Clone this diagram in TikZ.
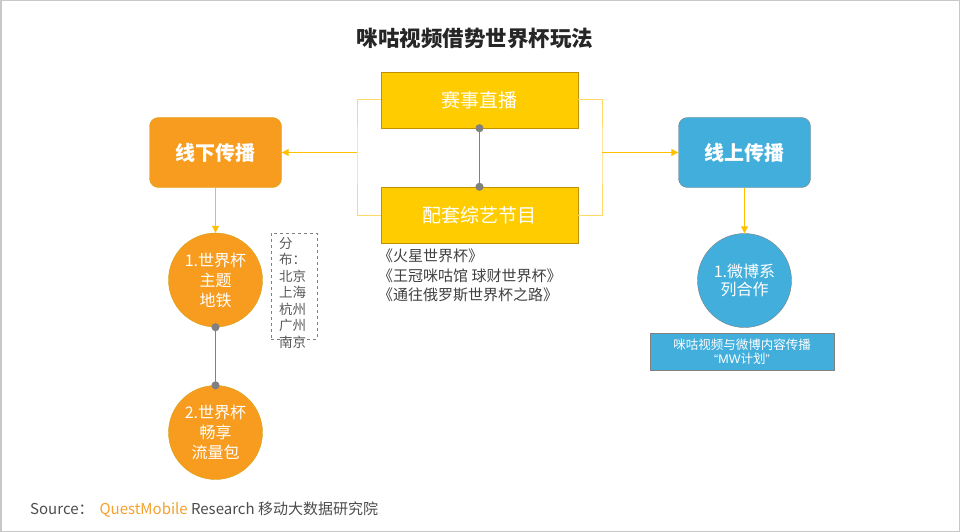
\documentclass[tikz,border=0pt]{standalone}
\usepackage{fontspec}
\setmainfont{Noto Sans CJK SC}
\newfontfamily\latinfont{Liberation Sans}
\usetikzlibrary{positioning,arrows.meta}
\definecolor{gold}{HTML}{FFCC00}
\definecolor{goldline}{HTML}{BF9000}
\definecolor{mgorange}{HTML}{F79C1E}
\definecolor{ringgold}{HTML}{D2A31A}
\definecolor{skyblue}{HTML}{41AEDC}
\definecolor{linkyellow}{HTML}{FFC000}
\definecolor{bracketyellow}{HTML}{FFD966}
\definecolor{textgray}{HTML}{404040}
\definecolor{framegray}{HTML}{C8C8C8}
\definecolor{qmorange}{HTML}{F7A02A}

\begin{document}
\begin{tikzpicture}[x=1pt, y=-1pt,
  live/.style = {draw=goldline, fill=gold, text=white, minimum width=197pt, minimum height=56pt, inner sep=0pt, font=\fontsize{19}{23}\selectfont},
  channel/.style = {draw, rounded corners=9pt, text=white, minimum width=132pt, minimum height=70pt, inner sep=0pt, font=\fontsize{20}{24}\selectfont\bfseries},
  ball/.style = {draw, circle, text=white, minimum size=94pt, inner sep=0pt, align=center, font=\fontsize{16}{20}\selectfont},
  arrow/.style = {draw=linkyellow, line width=1pt, -{Triangle[length=7pt,width=7pt]}},
  bracket/.style = {draw=bracketyellow, line width=1pt},
  link/.style = {draw=gray, line width=1.2pt, {Circle[length=8pt]}-{Circle[length=8pt]}, shorten <=-4pt, shorten >=-4pt}]
  \useasboundingbox (0,0) rectangle (960,532);
  \draw[framegray, line width=1.5pt] (0.75,0.75) rectangle (959.25,531.25);

  \node[font=\fontsize{21.5}{26}\selectfont\bfseries, text=black!85] (title) at (475,38) {咪咕视频借势世界杯玩法};

  % centre: content
  \node[live] (match) at (479.5,100) {赛事直播};
  \node[live] (show) at (479.5,215) {配套综艺节目};
  \draw[link] (match) -- (show);
  \node[anchor=north west, align=left, text=textgray, inner sep=0pt, font=\fontsize{15}{19.5}\selectfont] (books) at (378,249) {《火星世界杯》\\《王冠咪咕馆 球财世界杯》\\《通往俄罗斯世界杯之路》};

  % left: offline
  \node[channel, draw=ringgold, fill=mgorange] (off) at (215.5,152.5) {线下传播};
  \coordinate (lj) at (357,152.5);
  \draw[bracket] (match.west) -| (lj) |- (show.west);
  \draw[arrow] (lj) -- (off);
  \node[ball, draw=ringgold, fill=mgorange] (metro) at (215.5,280) {1.世界杯\\主题\\地铁};
  \node[ball, draw=ringgold, fill=mgorange] (data) at (215.5,432.5) {2.世界杯\\畅享\\流量包};
  \draw[arrow] (off) -- (metro);
  \draw[link] (metro) -- (data);
  \node[draw=gray, dashed, minimum width=46pt, minimum height=106pt, inner sep=0pt] (city) at (294,286) {};
  \node[anchor=north west, align=left, text=black!65, inner sep=0pt, font=\fontsize{13.5}{16.5}\selectfont, below right=4pt and 8pt of city.north west] (cities) {分\\布：\\北京\\上海\\杭州\\广州\\南京};

  % right: online
  \node[channel, draw=gray, fill=skyblue] (on) at (744.5,152.5) {线上传播};
  \coordinate (rj) at (602,152.5);
  \draw[bracket] (match.east) -| (rj) |- (show.east);
  \draw[arrow] (rj) -- (on);
  \node[ball, draw=gray, fill=skyblue, font=\fontsize{16}{18}\selectfont] (weibo) at (744.5,280.5) {1.微博系\\列合作};
  \draw[arrow] (on) -- (weibo);
  \node[draw=gray, fill=skyblue, text=white, minimum width=184pt, minimum height=37pt, inner sep=0pt, align=center, font=\fontsize{12.5}{14}\selectfont] (mw) at (742,351.5) {咪咕视频与微博内容传播\\{\latinfont “MW}计划{\latinfont ”}};

  % source
  \node[anchor=west, inner sep=0pt, text=black!70, font=\fontsize{15}{18}\selectfont] (source) at (30,510) {Source：\hspace{6pt}{\color{qmorange}QuestMobile} Research 移动大数据研究院};
\end{tikzpicture}
\end{document}
